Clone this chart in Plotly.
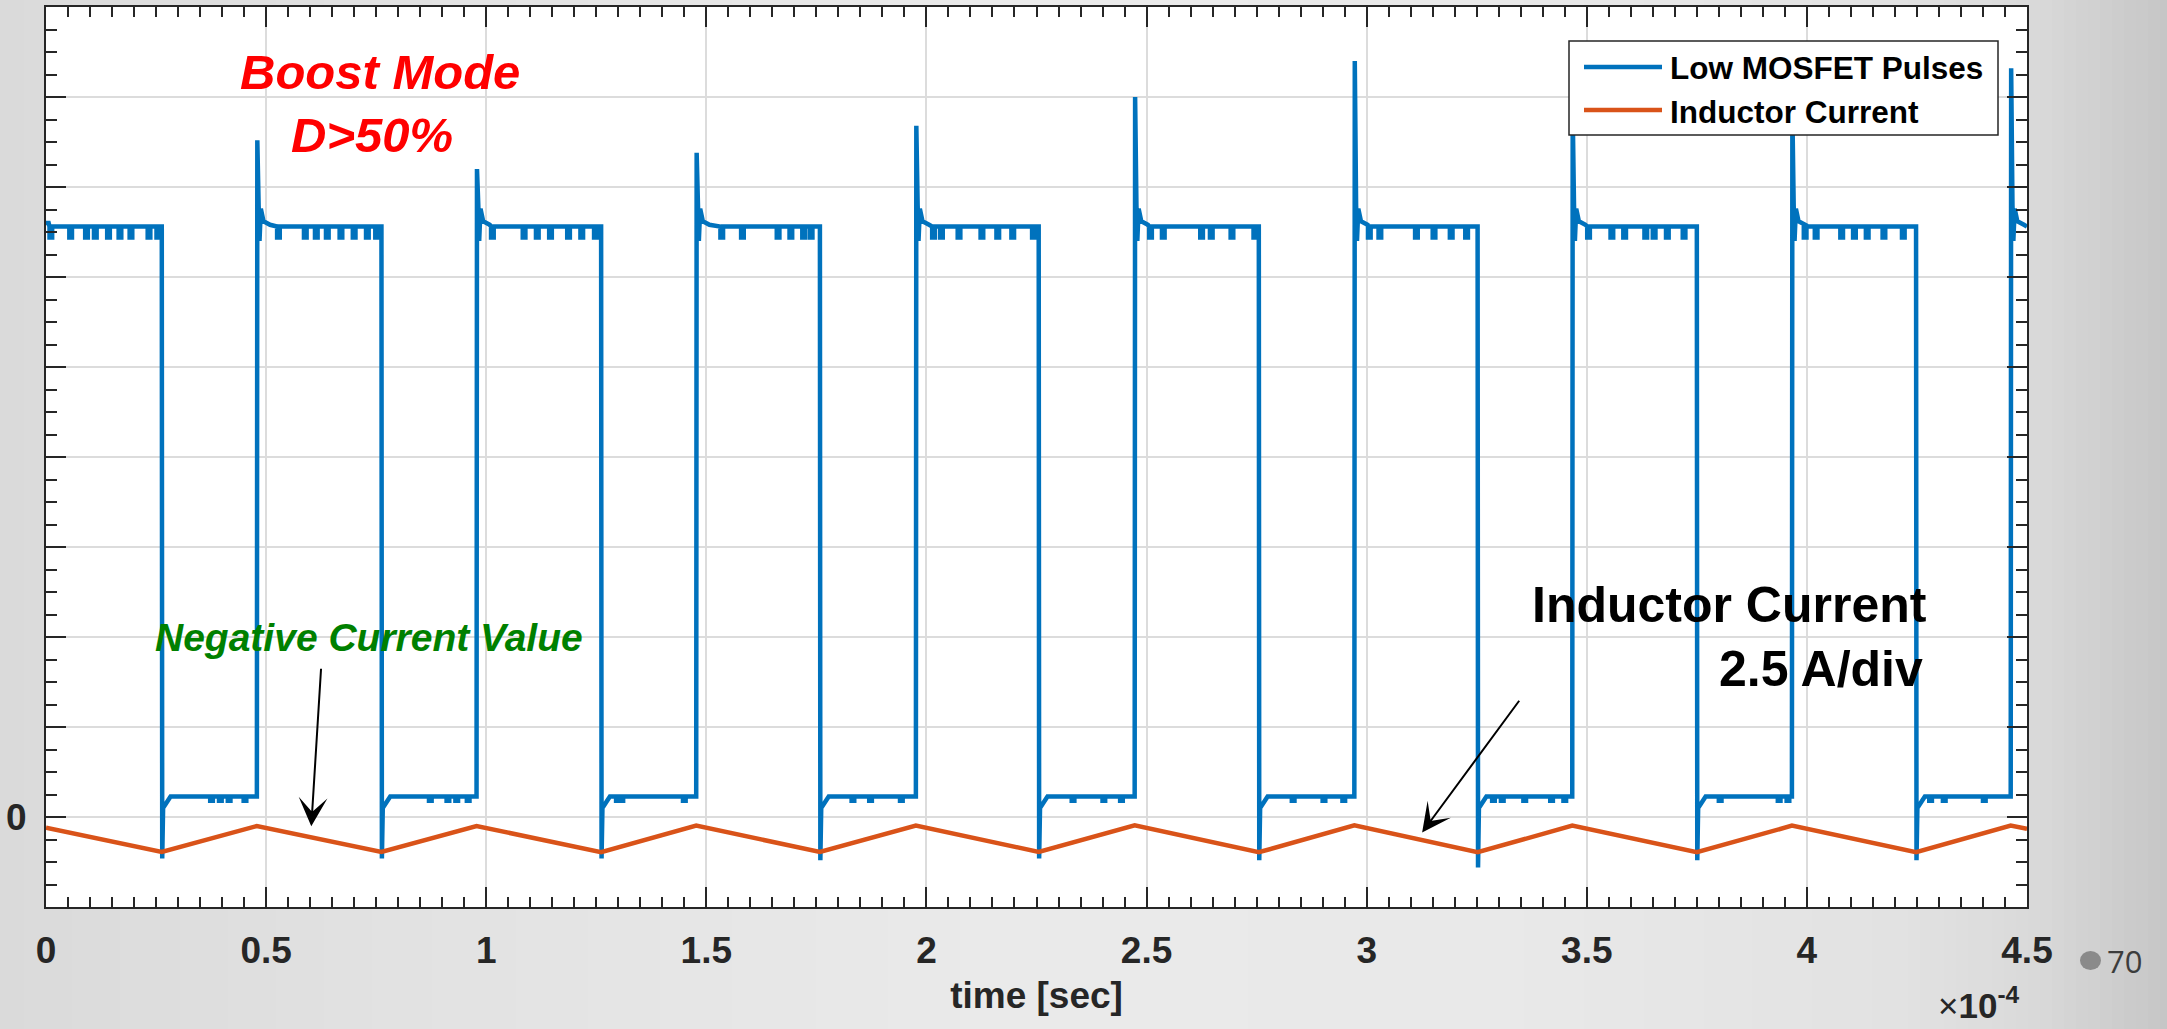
import plotly.graph_objects as go

# ---- data (time in units of 1e-4 s, values in A on a 2.5 A/div grid) ----
# Low MOSFET gate pulses: edge instants
fall_t = [0.263, 0.762, 1.261, 1.758, 2.255, 2.755, 3.252, 3.750, 4.248]
rise_t = [0.479, 0.978, 1.477, 1.976, 2.473, 2.972, 3.467, 3.966, 4.463]
# ringing peak after each rising edge and undershoot after each falling edge
spike_peak = [18.8, 18.0, 18.45, 19.2, 20.0, 21.0, 19.6, 19.6, 20.8]
fall_undershoot = [-1.15, -1.15, -1.15, -1.2, -1.15, -1.2, -1.4, -1.2, -1.2]
high_start = 16.5
high_level = 16.4
high_dip = 16.1
low_level = 0.57
low_dip = 0.45
# small notches on the flat parts of the pulse train
high_dips = [
    [0.008, 0.053, 0.089, 0.109, 0.139, 0.165, 0.19, 0.231, 0.251],
    [0.525, 0.586, 0.611, 0.636, 0.667, 0.697, 0.727, 0.748],
    [1.011, 1.083, 1.113, 1.143, 1.184, 1.214, 1.245],
    [1.532, 1.579, 1.66, 1.689, 1.718, 1.735],
    [2.013, 2.031, 2.071, 2.123, 2.159, 2.193, 2.24],
    [2.506, 2.535, 2.622, 2.644, 2.691, 2.743],
    [3.003, 3.027, 3.11, 3.15, 3.189, 3.224],
    [3.501, 3.554, 3.583, 3.631, 3.65, 3.68, 3.718],
    [3.993, 4.018, 4.076, 4.105, 4.134, 4.172, 4.216],
    [],
]
low_dips = [
    [0.373, 0.393, 0.413, 0.449],
    [0.87, 0.91, 0.93, 0.956],
    [1.295, 1.305, 1.447],
    [1.83, 1.87, 1.94],
    [2.33, 2.40, 2.44],
    [2.83, 2.90, 2.945],
    [3.285, 3.305, 3.356, 3.417, 3.447],
    [3.80, 3.934, 3.954],
    [4.278, 4.309, 4.40],
]
t_end = 4.5

# Inductor current: triangle vertices
cur_t = [0.0, 0.263, 0.479, 0.762, 0.978, 1.261, 1.477, 1.758, 1.976, 2.255,
         2.473, 2.755, 2.972, 3.252, 3.467, 3.750, 3.966, 4.248, 4.463, 4.5]
cur_a = [-0.30, -0.97, -0.25, -0.97, -0.25, -0.98, -0.24, -0.97, -0.24, -0.97,
         -0.23, -0.98, -0.23, -0.98, -0.24, -0.98, -0.24, -0.98, -0.24, -0.33]

x_ticks = [0, 0.5, 1, 1.5, 2, 2.5, 3, 3.5, 4, 4.5]
y_ticks = [-2.5, 0, 2.5, 5, 7.5, 10, 12.5, 15, 17.5, 20, 22.5]
y_ticktext = ["" if v != 0 else "0" for v in y_ticks]

BLUE = "#0072BD"
ORANGE = "#D95319"
INK = "#262626"
FONT = "Liberation Sans, Arial, sans-serif"


def add_notches(xs, ys, times, base, dip, w=0.006):
    for t in times:
        xs += [t, t, t + w, t + w]
        ys += [base, dip, dip, base]


# assemble the pulse train from the edges and levels
px, py = [0.0, 0.006], [high_start, high_start]
add_notches(px, py, high_dips[0], high_level, high_dip)
for k in range(len(fall_t)):
    tf, tr = fall_t[k], rise_t[k]
    px += [tf, tf + 0.001, tf + 0.003, tf + 0.010, tf + 0.020]
    py += [high_level, fall_undershoot[k], 0.25, 0.38, low_level]
    add_notches(px, py, low_dips[k], low_level, low_dip)
    px += [tr, tr + 0.001, tr + 0.004, tr + 0.006, tr + 0.009, tr + 0.015, tr + 0.03]
    py += [low_level, spike_peak[k], 17.0, 16.0, 16.9, 16.55, 16.45]
    add_notches(px, py, high_dips[k + 1], high_level, high_dip)
px.append(t_end)
py.append(high_level)

fig = go.Figure()
fig.add_trace(go.Scatter(x=px, y=py, mode="lines", name="Low MOSFET Pulses",
                         line=dict(color=BLUE, width=4.5), showlegend=False))
fig.add_trace(go.Scatter(x=cur_t, y=cur_a, mode="lines", name="Inductor Current",
                         line=dict(color=ORANGE, width=4.5), showlegend=False))

W, H = 2167, 1029
L, R, T, B = 46, 140, 7, 122
pw, ph = W - L - R, H - T - B


def fx(p):  # pixel -> paper x
    return (p - L) / pw


def fy(p):  # pixel -> paper y
    return (H - B - p) / ph


shapes = []
# slide background: soft horizontal grey gradient
stops_px = [0, 400, 1000, 1500, 1900, 2030, 2167]
stops_g = [218, 226, 234, 233, 226, 218, 198]
step = 12
for x0 in range(0, W, step):
    xc = x0 + step / 2
    for i in range(len(stops_px) - 1):
        if stops_px[i] <= xc <= stops_px[i + 1]:
            f = (xc - stops_px[i]) / (stops_px[i + 1] - stops_px[i])
            g = round(stops_g[i] + f * (stops_g[i + 1] - stops_g[i]))
            break
    shapes.append(dict(type="rect", xref="paper", yref="paper", layer="below",
                       x0=fx(x0), x1=fx(x0 + step + 1), y0=fy(H), y1=fy(0),
                       fillcolor=f"rgb({g},{g},{g})", line=dict(width=0)))
# white plotting area on top of the gradient
shapes.append(dict(type="rect", xref="paper", yref="paper", layer="below",
                   x0=0, x1=1, y0=0, y1=1, fillcolor="white", line=dict(width=0)))

# legend box
shapes.append(dict(type="rect", xref="paper", yref="paper", layer="above",
                   x0=fx(1569), x1=fx(1998), y0=fy(135), y1=fy(41),
                   fillcolor="white", line=dict(color=INK, width=1.5)))
shapes.append(dict(type="line", xref="paper", yref="paper", layer="above",
                   x0=fx(1584), x1=fx(1662), y0=fy(67), y1=fy(67),
                   line=dict(color=BLUE, width=4.5)))
shapes.append(dict(type="line", xref="paper", yref="paper", layer="above",
                   x0=fx(1584), x1=fx(1662), y0=fy(110), y1=fy(110),
                   line=dict(color=ORANGE, width=4.5)))
# slide number marker
shapes.append(dict(type="circle", xref="paper", yref="paper", layer="above",
                   x0=fx(2080), x1=fx(2101), y0=fy(970), y1=fy(951),
                   fillcolor="#8a8a8a", line=dict(width=0)))

bold = dict(family=FONT, weight="bold")
annotations = [
    dict(text="Low MOSFET Pulses", xref="paper", yref="paper", x=fx(1668), y=fy(68),
         xanchor="left", yanchor="middle", showarrow=False,
         font=dict(size=31.5, color="black", **bold)),
    dict(text="Inductor Current", xref="paper", yref="paper", x=fx(1668), y=fy(112),
         xanchor="left", yanchor="middle", showarrow=False,
         font=dict(size=31.5, color="black", **bold)),
    dict(text="<i>Boost Mode</i>", xref="x", yref="y", x=0.758, y=20.7,
         showarrow=False, font=dict(size=49, color="#FF0000", **bold)),
    dict(text="<i>D>50%</i>", xref="x", yref="y", x=0.741, y=18.95,
         showarrow=False, font=dict(size=49, color="#FF0000", **bold)),
    dict(text="<i>Negative Current Value</i>", xref="x", yref="y", x=0.733, y=5.0,
         showarrow=False, font=dict(size=39, color="#008000", **bold)),
    dict(text="Inductor Current", xref="x", yref="y", x=4.277, y=5.9,
         xanchor="right", showarrow=False, font=dict(size=50, color="black", **bold)),
    dict(text="2.5 A/div", xref="x", yref="y", x=4.268, y=4.1,
         xanchor="right", showarrow=False, font=dict(size=50, color="black", **bold)),
    # arrows pointing at the current trace
    dict(text="", xref="x", yref="y", axref="x", ayref="y",
         x=0.6026, y=-0.26, ax=0.625, ay=4.16, showarrow=True,
         arrowhead=3, arrowsize=2.4, arrowwidth=2, arrowcolor="black"),
    dict(text="", xref="x", yref="y", axref="x", ayref="y",
         x=3.126, y=-0.43, ax=3.349, ay=3.27, showarrow=True,
         arrowhead=3, arrowsize=2.4, arrowwidth=2, arrowcolor="black"),
    # axis exponent
    dict(text="<span style='font-weight:normal'>×</span>10<sup>-4</sup>",
         xref="paper", yref="paper", x=fx(2022), y=fy(1027),
         xanchor="right", yanchor="bottom", showarrow=False,
         font=dict(size=35, color=INK, **bold)),
    dict(text="70", xref="paper", yref="paper", x=fx(2105), y=fy(961),
         xanchor="left", yanchor="middle", showarrow=False,
         font=dict(size=31, color="#3c3c3c", family="Open Sans, sans-serif")),
]

axis_common = dict(showline=True, linecolor=INK, linewidth=2, mirror="allticks",
                   ticks="inside", tickcolor=INK, tickwidth=2, ticklen=20,
                   showgrid=True, gridcolor="#dcdcdc", gridwidth=1.5,
                   zeroline=False, automargin=False,
                   tickfont=dict(size=37, color=INK, **bold))

fig.update_xaxes(range=[0, 4.5], tickvals=x_ticks,
                 ticktext=[f"{v:g}" for v in x_ticks],
                 minor=dict(ticks="inside", dtick=0.05, tick0=0, ticklen=10,
                            tickwidth=2, tickcolor=INK, showgrid=False),
                 ticklabelstandoff=10,
                 title=dict(text="time [sec]", standoff=12,
                            font=dict(size=37, color=INK, **bold)),
                 **axis_common)
fig.update_yaxes(range=[-2.5, 22.5], tickvals=y_ticks, ticktext=y_ticktext,
                 minor=dict(ticks="inside", dtick=0.625, tick0=0, ticklen=11,
                            tickwidth=2, tickcolor=INK, showgrid=False),
                 ticklabelstandoff=10, **axis_common)

fig.update_layout(width=W, height=H, template="none",
                  margin=dict(l=L, r=R, t=T, b=B, pad=0),
                  paper_bgcolor="#e4e4e4", plot_bgcolor="white",
                  showlegend=False, shapes=shapes, annotations=annotations)

fig.write_html("out.html")
